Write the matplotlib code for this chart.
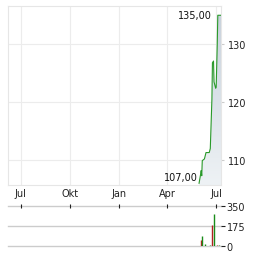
import numpy as np
import pandas as pd
import matplotlib
matplotlib.use("Agg")
import matplotlib.pyplot as plt
import matplotlib.dates as mdates

# price series
priceDates = ["2025-05-30", "2025-06-02", "2025-06-03", "2025-06-04", "2025-06-05",
              "2025-06-09", "2025-06-12", "2025-06-18", "2025-06-20", "2025-06-23",
              "2025-06-24", "2025-06-26", "2025-06-27", "2025-06-30", "2025-07-01",
              "2025-07-03", "2025-07-04", "2025-07-10"]
priceValues = [106.0, 107.6, 108.2, 107.3, 109.9,
               110.2, 111.3, 111.3, 112.0, 120.5,
               126.8, 127.1, 123.5, 122.4, 122.6,
               130.0, 135.0, 135.0]

# volume bars
volumeDates = ["2025-06-02", "2025-06-05", "2025-06-11", "2025-06-20",
               "2025-06-24", "2025-06-27", "2025-07-03", "2025-07-07"]
volumeValues = [55, 90, 20, 8, 180, 283, 8, 5]
volumeUp = [False, True, True, True, False, True, False, True]

monthTicks = ["2024-07-01", "2024-10-01", "2025-01-01", "2025-04-01", "2025-07-01"]
monthLabels = ["Jul", "Okt", "Jan", "Apr", "Jul"]
priceTicks = [110, 120, 130]
volumeTicks = [0, 175, 350]

maxLabel = "135,00"
minLabel = "107,00"

#--------------------------------------------------------

plt.rc('font', family='DejaVu Sans', size=7)

xMin = pd.Timestamp("2024-06-07")
xMax = pd.Timestamp("2025-07-10")

pDates = pd.to_datetime(priceDates)
vDates = pd.to_datetime(volumeDates)
mTicks = pd.to_datetime(monthTicks)

fig = plt.figure(figsize=(2.64, 2.55), dpi=100)

ax = fig.add_axes([8/264, 1-186/255, 213/264, 179/255])
axv = fig.add_axes([8/264, 1-247/255, 213/264, 40/255])

yMin, yMax = 105.7, 136.6

# gradient fill under price line
px = mdates.date2num(pDates)
poly = ax.fill_between(px, priceValues, yMin, color='none', lw=0)
grad = np.linspace(0, 1, 256).reshape(-1, 1)
cmap = matplotlib.colors.LinearSegmentedColormap.from_list("g", ["#eef2f5", "#c8d2dc"])
img = ax.imshow(grad, cmap=cmap, aspect='auto', origin='lower',
                extent=[px.min(), px.max(), yMin, max(priceValues)], zorder=1)
img.set_clip_path(poly.get_paths()[0], transform=ax.transData)

ax.plot(px, priceValues, color='#2a9a2a', lw=0.8, zorder=3)

ax.set_xlim(mdates.date2num(xMin), mdates.date2num(xMax))
ax.set_ylim(yMin, yMax)

ax.set_xticks(mdates.date2num(mTicks))
ax.set_xticklabels([])
ax.tick_params(axis='x', length=0)
ax.yaxis.tick_right()
ax.set_yticks(priceTicks)
ax.set_yticklabels([str(t) for t in priceTicks], color='#222222', fontsize=7)
ax.tick_params(axis='y', length=2, color='#cccccc', pad=3)
ax.grid(True, color='#ececec', lw=0.8, zorder=0)
ax.set_axisbelow(True)
for s in ax.spines.values():
    s.set_color('#e6e6e6')
    s.set_linewidth(0.8)

# min / max labels
iMax = int(np.argmax(priceValues))
iMin = int(np.argmin(priceValues))
ax.annotate(maxLabel, (px[iMax], priceValues[iMax]), xytext=(-4, 0), textcoords='offset points',
            ha='right', va='center', fontsize=7, color='#111111')
ax.annotate(minLabel, (px[iMin], 107.0), xytext=(-1, 0), textcoords='offset points',
            ha='right', va='center', fontsize=7, color='#111111')

# volume
vColors = ['#1a8c1a' if u else '#b22222' for u in volumeUp]
axv.vlines(mdates.date2num(vDates), 0, volumeValues, colors=vColors, lw=1.0, zorder=3)
axv.set_xlim(mdates.date2num(xMin), mdates.date2num(xMax))
axv.set_ylim(0, 350)
for t in volumeTicks:
    axv.axhline(t, color='#cccccc', lw=1.0, zorder=0, clip_on=False)
axv.set_yticks(volumeTicks)
axv.set_yticklabels([str(t) for t in volumeTicks], color='#222222', fontsize=7)
axv.yaxis.tick_right()
axv.tick_params(axis='y', length=3, color='#222222', pad=1)
axv.set_xticks(mdates.date2num(mTicks))
axv.set_xticklabels(monthLabels, color='#222222', fontsize=7)
axv.xaxis.tick_top()
axv.tick_params(axis='x', length=3, color='#222222', direction='inout', pad=4)
for s in axv.spines.values():
    s.set_visible(False)

fig.savefig("out.png", dpi=100)
